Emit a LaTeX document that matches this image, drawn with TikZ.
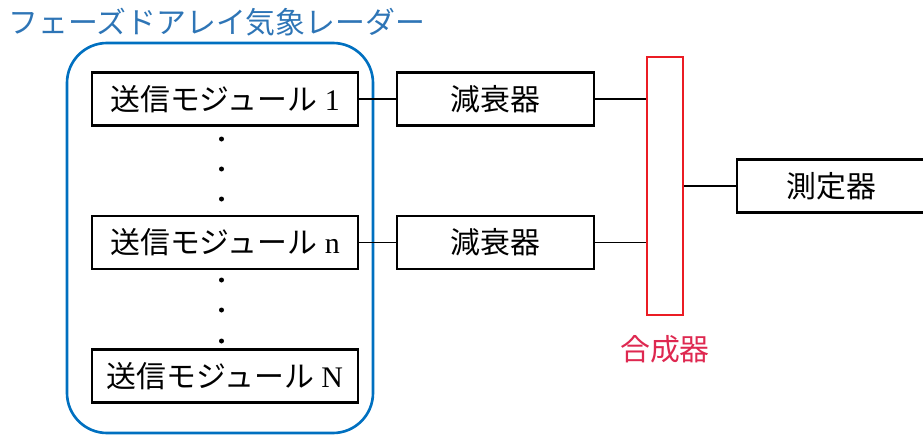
\documentclass[tikz,border=0pt]{standalone}
\usepackage{fontspec}
\setmainfont{Liberation Serif}
\newfontfamily\jp{Noto Sans CJK JP}
\definecolor{radarblue}{RGB}{0,112,192}
\definecolor{titleblue}{RGB}{46,117,182}
\definecolor{combred}{RGB}{235,28,36}
\definecolor{combtext}{RGB}{222,40,80}
\usetikzlibrary{positioning}
\tikzset{
  unit/.style={draw=black, line width=1.4pt, inner sep=0pt, fill=white,
              minimum height=1.06cm, font=\fontsize{17}{20}\selectfont},
  modbox/.style={unit, minimum width=5.32cm},
  attbox/.style={unit, minimum width=3.94cm},
  radarbox/.style={draw=radarblue, line width=1.5pt, rounded corners=0.8cm},
  link/.style={black, line width=0.8pt},
}

\begin{document}
\begin{tikzpicture}
        \useasboundingbox (0,0) rectangle (18.46,8.68);
        \node[font=\fontsize{17}{20}\selectfont\jp,text=titleblue,anchor=west,inner sep=0pt] (title) at (0.16,8.24) {フェーズドアレイ気象レーダー};
        \node[radarbox,minimum width=6.12cm,minimum height=7.8cm] (radar) at (4.4,3.92) {};
        \node[modbox] (m1) at (4.5,6.70) {{\jp 送信モジュール} 1};
        \node[modbox] (mn) at (4.5,3.83) {{\jp 送信モジュール} n};
        \node[modbox] (mN) at (4.5,1.16) {{\jp 送信モジュール} N};
        % dots between the modules
        \foreach \y in {5.90,5.30,4.70,3.08,2.48,1.86}
          \fill (4.43,\y) circle (0.05);
        \node[attbox] (a1) at (9.91,6.70) {\jp 減衰器};
        \node[attbox] (an) at (9.91,3.83) {\jp 減衰器};
        \node[draw=combred,line width=1.4pt,minimum width=0.72cm,minimum height=5.16cm] (comb) at (13.3,4.96) {};
        \node[font=\fontsize{17}{20}\selectfont\jp,text=combtext,below=0.25cm of comb] (combl) {合成器};
        \node[unit,minimum width=3.78cm] (meas) at (16.63,4.96) {\jp 測定器};
        \draw[link] (m1.east) -- (a1.west);
        \draw[link] (mn.east) -- (an.west);
        \draw[link] (a1.east) -- (a1.east -| comb.west);
        \draw[link] (an.east) -- (an.east -| comb.west);
        \draw[link] (comb.east) -- (meas.west);
\end{tikzpicture}
\end{document}
